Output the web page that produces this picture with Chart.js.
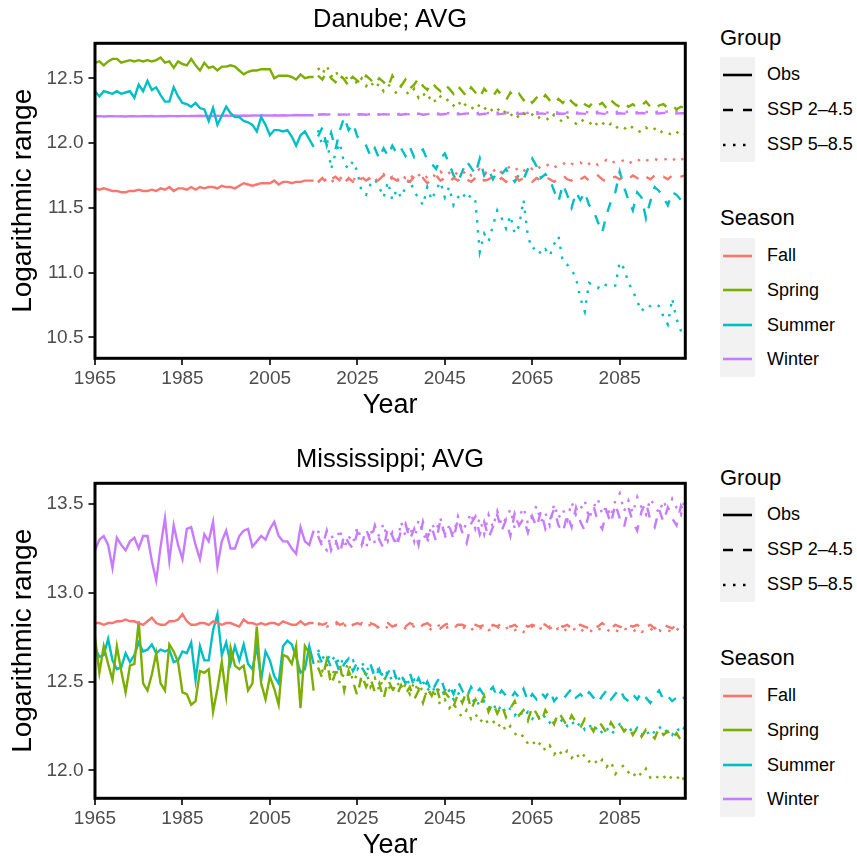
<!DOCTYPE html>
<html>
<head>
<meta charset="utf-8">
<script src="https://cdn.jsdelivr.net/npm/chart.js@4.4.0/dist/chart.umd.min.js"></script>
<style>
body{margin:0;width:857px;height:860px;overflow:hidden;background:#fff;font-family:'Liberation Sans',Arial,sans-serif;position:relative}
canvas{position:absolute;left:0}
.ttl{position:absolute;left:95px;width:590px;text-align:center;font-size:25.5px;line-height:26px;color:#000}
.lg-title{position:absolute;left:720px;font-size:22px;line-height:22px;color:#000}
.keys{position:absolute;left:720px;width:35px;background:#f2f2f2}
.lab{position:absolute;left:767px;font-size:18px;white-space:nowrap;color:#000}
.key{position:absolute;left:720px}
</style>
</head>
<body>
<canvas id="c1" width="700" height="440" style="top:0"></canvas>
<canvas id="c2" width="700" height="440" style="top:440px"></canvas>
<div class="ttl" style="top:5px">Danube; AVG</div>
<div class="ttl" style="top:445px">Mississippi; AVG</div>
<div id="legends"></div>
<script>
// categorias y años
const SEASONS = ['Fall','Spring','Summer','Winter'];
const SEASON_COLORS = ['#F8766D','#7CAE00','#00BFC4','#C77CFF'];
const GROUPS = ['Obs','SSP 2\u20134.5','SSP 5\u20138.5'];
const X_TICKS = [1965,1985,2005,2025,2045,2065,2085];
const DAN_Y_TICKS = [10.5,11.0,11.5,12.0,12.5];
const MIS_Y_TICKS = [12.0,12.5,13.0,13.5];

const YEARS_OBS = []; for(let y=1965;y<=2015;y++) YEARS_OBS.push(y);
const YEARS_SSP = []; for(let y=2016;y<=2100;y++) YEARS_SSP.push(y);

// --- Danube: observado 1965-2015 ---
const DAN_OBS_FALL = [11.65,11.64,11.65,11.64,11.63,11.63,11.62,11.62,11.63,11.63,
 11.64,11.63,11.63,11.64,11.63,11.65,11.64,11.66,11.63,11.65,
 11.65,11.64,11.66,11.64,11.66,11.65,11.66,11.66,11.65,11.67,
 11.66,11.66,11.65,11.67,11.69,11.68,11.67,11.68,11.69,11.69,
 11.69,11.71,11.68,11.70,11.70,11.69,11.70,11.70,11.71,11.71,11.71];
const DAN_OBS_SPRING = [12.62,12.63,12.60,12.63,12.65,12.65,12.62,12.63,12.64,12.63,
 12.64,12.63,12.64,12.63,12.64,12.66,12.62,12.63,12.58,12.63,
 12.61,12.60,12.65,12.60,12.56,12.62,12.58,12.59,12.56,12.59,
 12.59,12.60,12.59,12.56,12.53,12.55,12.56,12.56,12.57,12.57,
 12.57,12.50,12.52,12.52,12.52,12.51,12.49,12.53,12.50,12.51,12.51];
const DAN_OBS_SUMMER = [12.40,12.36,12.40,12.39,12.38,12.40,12.38,12.39,12.40,12.35,
 12.45,12.40,12.48,12.41,12.43,12.37,12.32,12.32,12.43,12.36,
 12.31,12.30,12.28,12.31,12.27,12.26,12.17,12.27,12.14,12.21,
 12.28,12.23,12.20,12.20,12.17,12.16,12.14,12.09,12.20,12.14,
 12.06,12.10,12.10,12.09,12.10,12.05,11.98,12.06,12.09,12.03,11.97];
const DAN_OBS_WINTER = [12.206,12.208,12.205,12.207,12.208,12.206,12.207,12.205,12.208,12.207,
 12.206,12.208,12.207,12.209,12.206,12.208,12.207,12.209,12.208,12.207,
 12.209,12.208,12.210,12.209,12.211,12.209,12.210,12.209,12.211,12.210,
 12.212,12.210,12.213,12.211,12.212,12.211,12.213,12.212,12.214,12.213,
 12.212,12.214,12.213,12.215,12.213,12.214,12.216,12.214,12.215,12.214,12.215];

// --- Danube: escenarios 2016-2100 ---
const DAN_245_FALL = [11.70,11.73,11.69,11.72,11.74,11.71,11.68,11.73,11.70,11.72,
 11.74,11.71,11.73,11.69,11.72,11.75,11.70,11.73,11.71,11.74,
 11.72,11.70,11.74,11.71,11.73,11.69,11.72,11.75,11.71,11.73,
 11.70,11.73,11.71,11.74,11.72,11.70,11.73,11.75,11.71,11.72,
 11.74,11.71,11.73,11.70,11.72,11.75,11.71,11.73,11.72,11.70,
 11.73,11.71,11.74,11.72,11.70,11.73,11.75,11.72,11.71,11.74,
 11.72,11.74,11.71,11.73,11.75,11.72,11.70,11.73,11.74,11.72,
 11.74,11.72,11.75,11.73,11.71,11.74,11.72,11.75,11.73,11.74,
 11.72,11.75,11.73,11.74,11.75];
const DAN_585_FALL = [11.71,11.68,11.73,11.70,11.72,11.74,11.69,11.73,11.71,11.75,
 11.72,11.70,11.74,11.71,11.73,11.76,11.72,11.74,11.70,11.75,
 11.73,11.76,11.72,11.75,11.77,11.73,11.76,11.74,11.78,11.75,
 11.77,11.74,11.78,11.76,11.79,11.75,11.78,11.80,11.76,11.79,
 11.78,11.81,11.77,11.80,11.82,11.79,11.81,11.78,11.82,11.80,
 11.83,11.80,11.82,11.84,11.81,11.83,11.85,11.82,11.84,11.83,
 11.85,11.82,11.84,11.86,11.83,11.85,11.87,11.84,11.86,11.85,
 11.87,11.84,11.86,11.88,11.85,11.87,11.86,11.88,11.86,11.87,
 11.88,11.86,11.89,11.87,11.89];
const DAN_245_SPRING = [12.52,12.49,12.55,12.50,12.47,12.53,12.49,12.44,12.51,12.48,
 12.46,12.52,12.49,12.45,12.50,12.47,12.43,12.52,12.46,12.44,
 12.49,12.42,12.45,12.50,12.44,12.41,12.47,12.43,12.40,12.45,
 12.42,12.38,12.44,12.40,12.36,12.43,12.39,12.35,12.42,12.38,
 12.36,12.41,12.37,12.33,12.39,12.35,12.38,12.33,12.36,12.31,
 12.35,12.32,12.37,12.33,12.30,12.34,12.31,12.36,12.32,12.29,
 12.33,12.30,12.28,12.32,12.29,12.31,12.27,12.33,12.30,12.28,
 12.31,12.28,12.30,12.27,12.29,12.32,12.28,12.26,12.29,12.30,
 12.27,12.29,12.26,12.28,12.27];
const DAN_585_SPRING = [12.58,12.53,12.60,12.51,12.56,12.49,12.54,12.47,12.52,12.45,
 12.50,12.44,12.48,12.42,12.46,12.40,12.45,12.43,12.38,12.44,
 12.40,12.37,12.42,12.35,12.39,12.33,12.37,12.31,12.36,12.32,
 12.34,12.29,12.33,12.27,12.31,12.28,12.25,12.30,12.26,12.29,
 12.24,12.27,12.22,12.25,12.21,12.24,12.19,12.23,12.20,12.22,
 12.18,12.21,12.20,12.17,12.22,12.19,12.16,12.20,12.17,12.15,
 12.19,12.16,12.14,12.18,12.13,12.16,12.12,12.15,12.11,12.14,
 12.12,12.09,12.13,12.10,12.08,12.12,12.09,12.11,12.07,12.10,
 12.08,12.06,12.09,12.05,12.07];
const DAN_245_SUMMER = [12.05,12.12,11.98,12.08,11.95,12.10,12.20,12.10,12.15,12.05,
 12.02,11.98,11.90,11.96,11.88,11.96,11.90,11.98,11.92,11.96,
 11.90,11.97,11.89,11.93,11.95,11.87,11.84,11.80,11.88,11.92,
 11.84,11.75,11.70,11.78,11.86,11.81,11.76,11.88,11.75,11.80,
 11.72,11.78,11.76,11.80,11.74,11.70,11.76,11.72,11.80,11.88,
 11.82,11.73,11.76,11.72,11.63,11.55,11.68,11.60,11.50,11.62,
 11.56,11.62,11.52,11.48,11.39,11.31,11.45,11.55,11.62,11.78,
 11.66,11.56,11.48,11.62,11.58,11.42,11.55,11.66,11.63,11.58,
 11.52,11.62,11.60,11.56,11.49];
const DAN_585_SUMMER = [12.10,11.98,12.05,11.80,11.92,12.00,11.84,11.80,11.86,11.78,
 11.62,11.60,11.68,11.72,11.66,11.58,11.70,11.56,11.64,11.58,
 11.66,11.72,11.62,11.58,11.52,11.66,11.56,11.64,11.70,11.58,
 11.66,11.52,11.58,11.62,11.56,11.60,11.55,11.16,11.30,11.24,
 11.36,11.48,11.42,11.34,11.44,11.30,11.36,11.56,11.28,11.18,
 11.20,11.14,11.18,11.13,11.22,11.28,11.08,11.06,11.02,10.96,
 10.80,10.70,10.92,10.90,10.88,10.92,10.90,10.89,10.90,11.08,
 11.03,10.92,10.86,10.78,10.70,10.75,10.74,10.76,10.74,10.66,
 10.60,10.80,10.64,10.55,10.50];
const DAN_245_WINTER = [12.218,12.222,12.220,12.216,12.223,12.219,12.221,12.217,12.224,12.220,
 12.222,12.218,12.225,12.221,12.219,12.223,12.220,12.226,12.221,12.218,
 12.224,12.220,12.222,12.227,12.219,12.223,12.221,12.225,12.220,12.224,
 12.222,12.226,12.221,12.224,12.228,12.222,12.225,12.220,12.226,12.223,
 12.227,12.222,12.225,12.229,12.223,12.226,12.224,12.228,12.222,12.226,
 12.224,12.229,12.225,12.227,12.223,12.228,12.226,12.230,12.224,12.227,
 12.229,12.225,12.228,12.226,12.231,12.227,12.224,12.229,12.226,12.230,
 12.227,12.231,12.226,12.229,12.232,12.228,12.225,12.230,12.228,12.233,
 12.229,12.232,12.227,12.231,12.230];
const DAN_585_WINTER = [12.220,12.216,12.223,12.219,12.222,12.218,12.225,12.221,12.217,12.223,
 12.221,12.226,12.220,12.224,12.222,12.227,12.221,12.225,12.223,12.228,
 12.224,12.222,12.228,12.225,12.229,12.223,12.227,12.230,12.226,12.228,
 12.231,12.226,12.229,12.233,12.227,12.231,12.228,12.234,12.230,12.232,
 12.229,12.235,12.231,12.233,12.236,12.230,12.234,12.237,12.232,12.235,
 12.238,12.233,12.236,12.234,12.239,12.235,12.238,12.236,12.240,12.234,
 12.237,12.241,12.236,12.239,12.242,12.238,12.236,12.241,12.239,12.243,
 12.238,12.242,12.240,12.237,12.243,12.239,12.244,12.240,12.242,12.238,
 12.243,12.240,12.245,12.241,12.243];

// --- Mississippi: observado 1965-2015 ---
const MIS_OBS_FALL = [12.83,12.83,12.82,12.83,12.83,12.84,12.84,12.85,12.84,12.84,
 12.83,12.82,12.84,12.86,12.83,12.82,12.82,12.84,12.84,12.85,
 12.88,12.84,12.82,12.82,12.83,12.83,12.82,12.84,12.83,12.82,
 12.83,12.83,12.82,12.81,12.85,12.83,12.83,12.82,12.83,12.82,
 12.83,12.83,12.82,12.84,12.83,12.82,12.82,12.84,12.82,12.83,12.83];
const MIS_OBS_SPRING = [12.75,12.55,12.70,12.60,12.51,12.70,12.56,12.44,12.59,12.60,
 12.84,12.49,12.45,12.54,12.66,12.49,12.45,12.71,12.67,12.61,
 12.44,12.43,12.37,12.39,12.56,12.55,12.57,12.33,12.46,12.61,
 12.42,12.69,12.59,12.57,12.59,12.45,12.49,12.81,12.49,12.40,
 12.53,12.46,12.37,12.65,12.64,12.60,12.70,12.35,12.70,12.66,12.45];
const MIS_OBS_SUMMER = [12.69,12.64,12.65,12.74,12.62,12.57,12.58,12.66,12.61,12.65,
 12.72,12.67,12.68,12.71,12.66,12.68,12.67,12.68,12.61,12.62,
 12.67,12.66,12.72,12.51,12.70,12.62,12.62,12.79,12.88,12.65,
 12.72,12.60,12.70,12.62,12.71,12.60,12.57,12.70,12.51,12.67,
 12.62,12.53,12.49,12.70,12.73,12.71,12.64,12.55,12.57,12.70,12.60];
const MIS_OBS_WINTER = [13.24,13.30,13.32,13.27,13.14,13.31,13.27,13.24,13.29,13.31,
 13.25,13.32,13.32,13.18,13.07,13.26,13.42,13.18,13.38,13.27,
 13.19,13.36,13.37,13.27,13.19,13.33,13.29,13.40,13.15,13.29,
 13.35,13.25,13.25,13.32,13.35,13.36,13.26,13.29,13.32,13.30,
 13.36,13.40,13.32,13.29,13.29,13.25,13.22,13.37,13.29,13.27,13.35];

// --- Mississippi: escenarios 2016-2100 ---
const MIS_245_FALL = [12.83,12.82,12.83,12.82,12.84,12.82,12.83,12.81,12.82,12.83,
 12.82,12.81,12.83,12.82,12.80,12.82,12.83,12.81,12.82,12.82,
 12.81,12.83,12.82,12.81,12.82,12.83,12.81,12.82,12.80,12.82,
 12.83,12.81,12.82,12.82,12.81,12.83,12.82,12.81,12.82,12.80,
 12.82,12.81,12.83,12.82,12.81,12.82,12.80,12.82,12.81,12.82,
 12.81,12.83,12.82,12.80,12.81,12.82,12.81,12.82,12.80,12.81,
 12.82,12.81,12.80,12.82,12.81,12.83,12.81,12.80,12.82,12.81,
 12.80,12.82,12.81,12.82,12.80,12.81,12.82,12.80,12.81,12.82,
 12.81,12.80,12.82,12.81,12.81];
const MIS_585_FALL = [12.82,12.83,12.81,12.82,12.83,12.81,12.82,12.80,12.82,12.81,
 12.83,12.81,12.82,12.80,12.81,12.82,12.80,12.81,12.82,12.81,
 12.80,12.82,12.81,12.80,12.82,12.81,12.79,12.81,12.82,12.80,
 12.81,12.80,12.82,12.80,12.81,12.79,12.81,12.80,12.81,12.79,
 12.80,12.81,12.79,12.80,12.81,12.79,12.80,12.78,12.80,12.81,
 12.79,12.80,12.79,12.81,12.79,12.80,12.78,12.80,12.79,12.80,
 12.78,12.80,12.79,12.78,12.80,12.79,12.78,12.80,12.79,12.78,
 12.80,12.79,12.78,12.80,12.78,12.79,12.80,12.78,12.79,12.78,
 12.79,12.78,12.80,12.78,12.78];
const MIS_245_SPRING = [12.58,12.52,12.62,12.48,12.55,12.60,12.45,12.56,12.50,12.42,
 12.54,12.47,12.52,12.44,12.49,12.40,12.51,12.46,12.42,12.48,
 12.43,12.47,12.40,12.45,12.38,12.46,12.42,12.48,12.39,12.44,
 12.41,12.36,12.43,12.38,12.45,12.34,12.40,12.36,12.42,12.33,
 12.38,12.32,12.37,12.30,12.35,12.39,12.31,12.34,12.28,12.36,
 12.32,12.27,12.34,12.30,12.26,12.33,12.29,12.25,12.31,12.27,
 12.24,12.29,12.26,12.22,12.28,12.25,12.21,12.27,12.23,12.26,
 12.22,12.25,12.20,12.24,12.19,12.23,12.21,12.18,12.24,12.20,
 12.22,12.18,12.21,12.17,12.20];
const MIS_585_SPRING = [12.62,12.56,12.60,12.52,12.58,12.49,12.55,12.61,12.50,12.54,
 12.50,12.56,12.47,12.52,12.45,12.53,12.48,12.44,12.50,12.46,
 12.48,12.43,12.50,12.44,12.47,12.41,12.46,12.42,12.37,12.40,
 12.35,12.38,12.33,12.30,12.34,12.29,12.32,12.27,12.30,12.26,
 12.28,12.24,12.27,12.22,12.25,12.21,12.18,12.20,12.15,12.17,
 12.13,12.16,12.11,12.14,12.09,12.12,12.08,12.11,12.07,12.10,
 12.06,12.09,12.05,12.07,12.03,12.06,12.02,12.05,11.98,12.01,
 12.03,11.99,11.96,12.00,11.97,12.01,11.96,11.98,11.95,11.97,
 11.94,11.97,11.95,11.98,11.93];
const MIS_245_SUMMER = [12.66,12.60,12.64,12.58,12.62,12.55,12.60,12.63,12.56,12.61,
 12.58,12.54,12.60,12.52,12.57,12.50,12.55,12.59,12.51,12.54,
 12.49,12.55,12.47,12.52,12.46,12.50,12.44,12.49,12.53,12.45,
 12.48,12.43,12.50,12.45,12.41,12.47,12.43,12.46,12.42,12.44,
 12.47,12.41,12.45,12.42,12.40,12.44,12.41,12.46,12.39,12.43,
 12.40,12.44,12.41,12.45,12.39,12.42,12.40,12.43,12.46,12.41,
 12.43,12.40,12.44,12.41,12.38,12.42,12.45,12.40,12.43,12.46,
 12.41,12.39,12.43,12.40,12.44,12.41,12.38,12.42,12.45,12.40,
 12.42,12.39,12.41,12.43,12.40];
const MIS_585_SUMMER = [12.68,12.63,12.66,12.61,12.65,12.59,12.64,12.60,12.62,12.57,
 12.61,12.56,12.59,12.54,12.58,12.52,12.56,12.50,12.55,12.49,
 12.53,12.48,12.51,12.46,12.50,12.45,12.48,12.43,12.47,12.42,
 12.45,12.40,12.44,12.39,12.42,12.37,12.41,12.36,12.39,12.35,
 12.38,12.33,12.37,12.32,12.35,12.31,12.34,12.30,12.33,12.29,
 12.32,12.28,12.31,12.27,12.30,12.26,12.29,12.25,12.28,12.24,
 12.27,12.23,12.26,12.22,12.25,12.21,12.24,12.20,12.23,12.26,
 12.22,12.25,12.21,12.24,12.20,12.23,12.19,12.22,12.25,12.21,
 12.23,12.20,12.24,12.21,12.25];
const MIS_245_WINTER = [13.32,13.26,13.35,13.24,13.30,13.22,13.33,13.28,13.25,13.34,
 13.27,13.36,13.29,13.38,13.30,13.25,13.37,13.32,13.26,13.35,
 13.39,13.30,13.36,13.27,13.40,13.31,13.37,13.29,13.41,13.33,
 13.38,13.30,13.42,13.34,13.28,13.39,13.43,13.33,13.40,13.31,
 13.37,13.44,13.35,13.41,13.32,13.45,13.38,13.42,13.34,13.43,
 13.37,13.46,13.36,13.41,13.47,13.38,13.34,13.44,13.37,13.48,
 13.40,13.35,13.45,13.49,13.40,13.36,13.46,13.39,13.50,13.42,
 13.37,13.48,13.40,13.35,13.46,13.51,13.41,13.37,13.47,13.40,
 13.48,13.42,13.38,13.49,13.44];
const MIS_585_WINTER = [13.35,13.27,13.24,13.33,13.27,13.36,13.25,13.32,13.28,13.37,
 13.29,13.25,13.36,13.28,13.33,13.39,13.29,13.34,13.27,13.40,
 13.32,13.38,13.29,13.41,13.34,13.28,13.39,13.35,13.42,13.31,
 13.38,13.33,13.43,13.35,13.39,13.45,13.36,13.42,13.33,13.44,
 13.37,13.46,13.38,13.42,13.47,13.36,13.43,13.48,13.39,13.44,
 13.49,13.40,13.45,13.38,13.50,13.42,13.47,13.41,13.51,13.44,
 13.47,13.52,13.42,13.48,13.53,13.44,13.49,13.43,13.52,13.56,
 13.46,13.52,13.45,13.54,13.48,13.44,13.53,13.49,13.45,13.52,
 13.46,13.53,13.48,13.44,13.54];

// tabla por temporada: [obs, ssp245, ssp585]
const DANUBE = {
  Fall:[DAN_OBS_FALL,DAN_245_FALL,DAN_585_FALL],
  Spring:[DAN_OBS_SPRING,DAN_245_SPRING,DAN_585_SPRING],
  Summer:[DAN_OBS_SUMMER,DAN_245_SUMMER,DAN_585_SUMMER],
  Winter:[DAN_OBS_WINTER,DAN_245_WINTER,DAN_585_WINTER]
};
const MISSISSIPPI = {
  Fall:[MIS_OBS_FALL,MIS_245_FALL,MIS_585_FALL],
  Spring:[MIS_OBS_SPRING,MIS_245_SPRING,MIS_585_SPRING],
  Summer:[MIS_OBS_SUMMER,MIS_245_SUMMER,MIS_585_SUMMER],
  Winter:[MIS_OBS_WINTER,MIS_245_WINTER,MIS_585_WINTER]
};

const FONT = "'Liberation Sans', Arial, sans-serif";
const DASHES = [[], [10,10], [2.5,7.5]];

// marco negro alrededor del panel
const framePlugin = {
  id:'frame',
  afterDatasetsDraw(chart){
    const {ctx, chartArea:a} = chart;
    ctx.save();
    ctx.strokeStyle = '#000'; ctx.lineWidth = 3;
    ctx.strokeRect(a.left, a.top, a.right-a.left, a.bottom-a.top);
    ctx.restore();
  }
};

function makePanel(id, table, yMin, yMax, yTicks){
  const datasets = [];
  SEASONS.forEach((s, si) => {
    table[s].forEach((vals, gi) => {
      const years = gi===0 ? YEARS_OBS : YEARS_SSP;
      datasets.push({
        label: s+' '+GROUPS[gi],
        data: years.map((x,i)=>({x:x, y:vals[i]})),
        borderColor: SEASON_COLORS[si],
        borderWidth: 2.4,
        borderDash: DASHES[gi],
        pointRadius: 0,
        fill: false,
        tension: 0
      });
    });
  });
  new Chart(document.getElementById(id), {
    type:'line',
    data:{datasets},
    options:{
      responsive:false, animation:false,
      layout:{padding:{top:43.3, right:14.7, bottom:0, left:0}},
      plugins:{legend:{display:false}, tooltip:{enabled:false}},
      scales:{
        x:{
          type:'linear', min:1965, max:2100,
          afterBuildTicks: sc => { sc.ticks = X_TICKS.map(v=>({value:v})); },
          afterFit: sc => { sc.height = 81.7; },
          ticks:{autoSkip:false, maxRotation:0, padding:2.6, color:'#4D4D4D', font:{family:FONT, size:19}, callback:v=>String(v)},
          grid:{drawOnChartArea:false, drawTicks:true, tickLength:6.7, color:'#333333', lineWidth:2},
          border:{display:false},
          title:{display:true, text:'Year', color:'#000', font:{family:FONT, size:27, lineHeight:1}, padding:{top:0, bottom:21}}
        },
        y:{
          type:'linear', min:yMin, max:yMax,
          afterBuildTicks: sc => { sc.ticks = yTicks.map(v=>({value:v})); },
          afterFit: sc => { sc.width = 95; },
          ticks:{padding:5, color:'#4D4D4D', font:{family:FONT, size:19}, callback:v=>v.toFixed(1)},
          grid:{drawOnChartArea:false, drawTicks:true, tickLength:6.5, color:'#333333', lineWidth:2},
          border:{display:false},
          title:{display:true, text:'Logarithmic range', color:'#000', font:{family:FONT, size:28, lineHeight:1}, padding:{top:9.5, bottom:0}}
        }
      }
    },
    plugins:[framePlugin]
  });
}

// leyenda estilo ggplot (Group / Season)
function keySvg(top, color, dash){
  const d = dash.length ? ` stroke-dasharray="${dash.join(' ')}"` : '';
  return `<svg class="key" style="top:${top-6}px" width="35" height="12"><line x1="3" y1="6" x2="32" y2="6" stroke="${color}" stroke-width="2.6"${d}/></svg>`;
}
function buildLegend(dy){
  let h = '';
  h += `<div class="lg-title" style="top:${27.4+dy}px">Group</div>`;
  h += `<div class="keys" style="top:${57+dy}px;height:105px"></div>`;
  GROUPS.forEach((g,i)=>{
    const c = 57+dy+17.5+35*i;
    h += keySvg(c, '#000', DASHES[i]);
    h += `<div class="lab" style="top:${c-17.5}px;height:35px;line-height:35px">${g}</div>`;
  });
  h += `<div class="lg-title" style="top:${207+dy}px">Season</div>`;
  h += `<div class="keys" style="top:${238.3+dy}px;height:138.4px"></div>`;
  SEASONS.forEach((s,i)=>{
    const c = 238.3+dy+17.3+34.6*i;
    h += keySvg(c, SEASON_COLORS[i], []);
    h += `<div class="lab" style="top:${c-17.3}px;height:34.6px;line-height:34.6px">${s}</div>`;
  });
  return h;
}

window.addEventListener('DOMContentLoaded', ()=>{
  makePanel('c1', DANUBE, 10.338, 12.770, DAN_Y_TICKS);
  makePanel('c2', MISSISSIPPI, 11.843, 13.617, MIS_Y_TICKS);
  document.getElementById('legends').innerHTML = buildLegend(0) + buildLegend(440);
});
</script>
</body>
</html>
